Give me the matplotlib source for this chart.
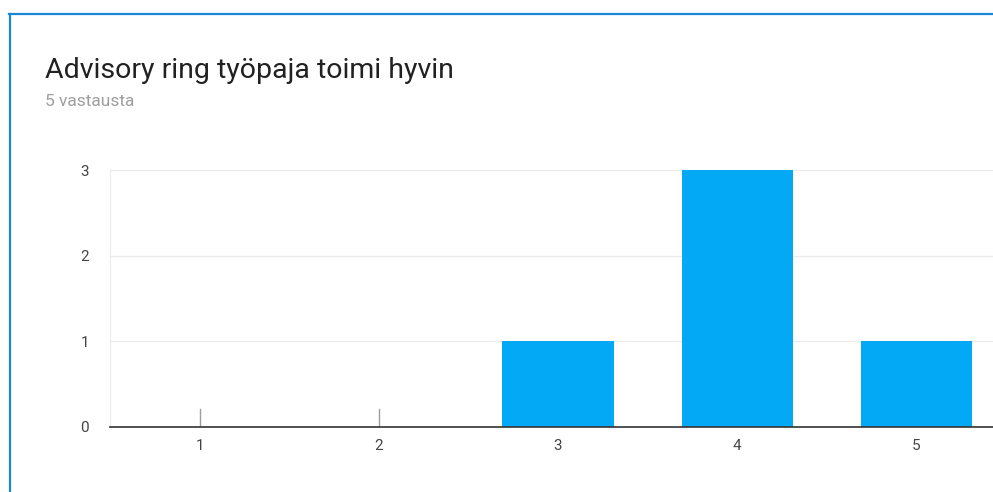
import matplotlib
matplotlib.use("Agg")
import matplotlib.pyplot as plt
from matplotlib.lines import Line2D

plt.rcParams["font.family"] = ["Roboto", "DejaVu Sans"]

TITLE = "Advisory ring työpaja toimi hyvin"
SUBTITLE = "5 vastausta"
categories = ["1", "2", "3", "4", "5"]
counts = [0, 0, 1, 3, 1]
y_ticks = [0, 1, 2, 3]

W, H = 993, 492
BAR_COLOR = "#03a9f4"
BORDER = "#1a88d4"


def main():
    fig = plt.figure(figsize=(W / 100, H / 100), dpi=100)

    # ── card border (top + left edge of the Forms card) ──────────────────────
    fig.add_artist(Line2D([9 / W, 1], [1 - 14 / H, 1 - 14 / H],
                          color=BORDER, lw=1.6, transform=fig.transFigure))
    fig.add_artist(Line2D([10 / W, 10 / W], [0, 1 - 14 / H],
                          color=BORDER, lw=1.6, transform=fig.transFigure))

    fig.text(45 / W, 1 - 70 / H, TITLE, fontsize=20.5, color="#212121",
             va="center", ha="left")
    fig.text(45 / W, 1 - 102 / H, SUBTITLE, fontsize=12.5, color="#9e9e9e",
             va="center", ha="left")

    # ── axes: x=0.5 sits at px 110, x=5.5 runs past the right edge ───────────
    left, right = 110, 1006
    bottom, top = 427, 170
    ax = fig.add_axes([left / W, 1 - bottom / H, (right - left) / W, (bottom - top) / H])

    x = range(1, len(categories) + 1)
    ax.bar(x, counts, width=0.62, color=BAR_COLOR, zorder=3)

    # empty categories get a small grey stub, like Google Forms does
    for xi, c in zip(x, counts):
        if c == 0:
            ax.plot([xi, xi], [0, 0.07], color="#9e9e9e", lw=1,
                    transform=ax.get_xaxis_transform(), zorder=3)

    ax.set_xlim(0.5, 5.5)
    ax.set_ylim(0, 3)
    ax.set_xticks(list(x))
    ax.set_xticklabels(categories)
    ax.set_yticks(y_ticks)
    ax.tick_params(length=0, labelsize=11, labelcolor="#444444")
    ax.tick_params(axis="y", pad=15)
    ax.tick_params(axis="x", pad=9)
    ax.grid(axis="y", color="#ebebeb", lw=1, zorder=0)

    for s in ["top", "right"]:
        ax.spines[s].set_visible(False)
    ax.spines["left"].set_color("#ebebeb")
    ax.spines["bottom"].set_color("#333333")
    ax.spines["bottom"].set_linewidth(1.2)
    ax.spines["bottom"].set_zorder(4)

    fig.savefig("out.png", dpi=100)
    plt.close(fig)


if __name__ == "__main__":
    main()
